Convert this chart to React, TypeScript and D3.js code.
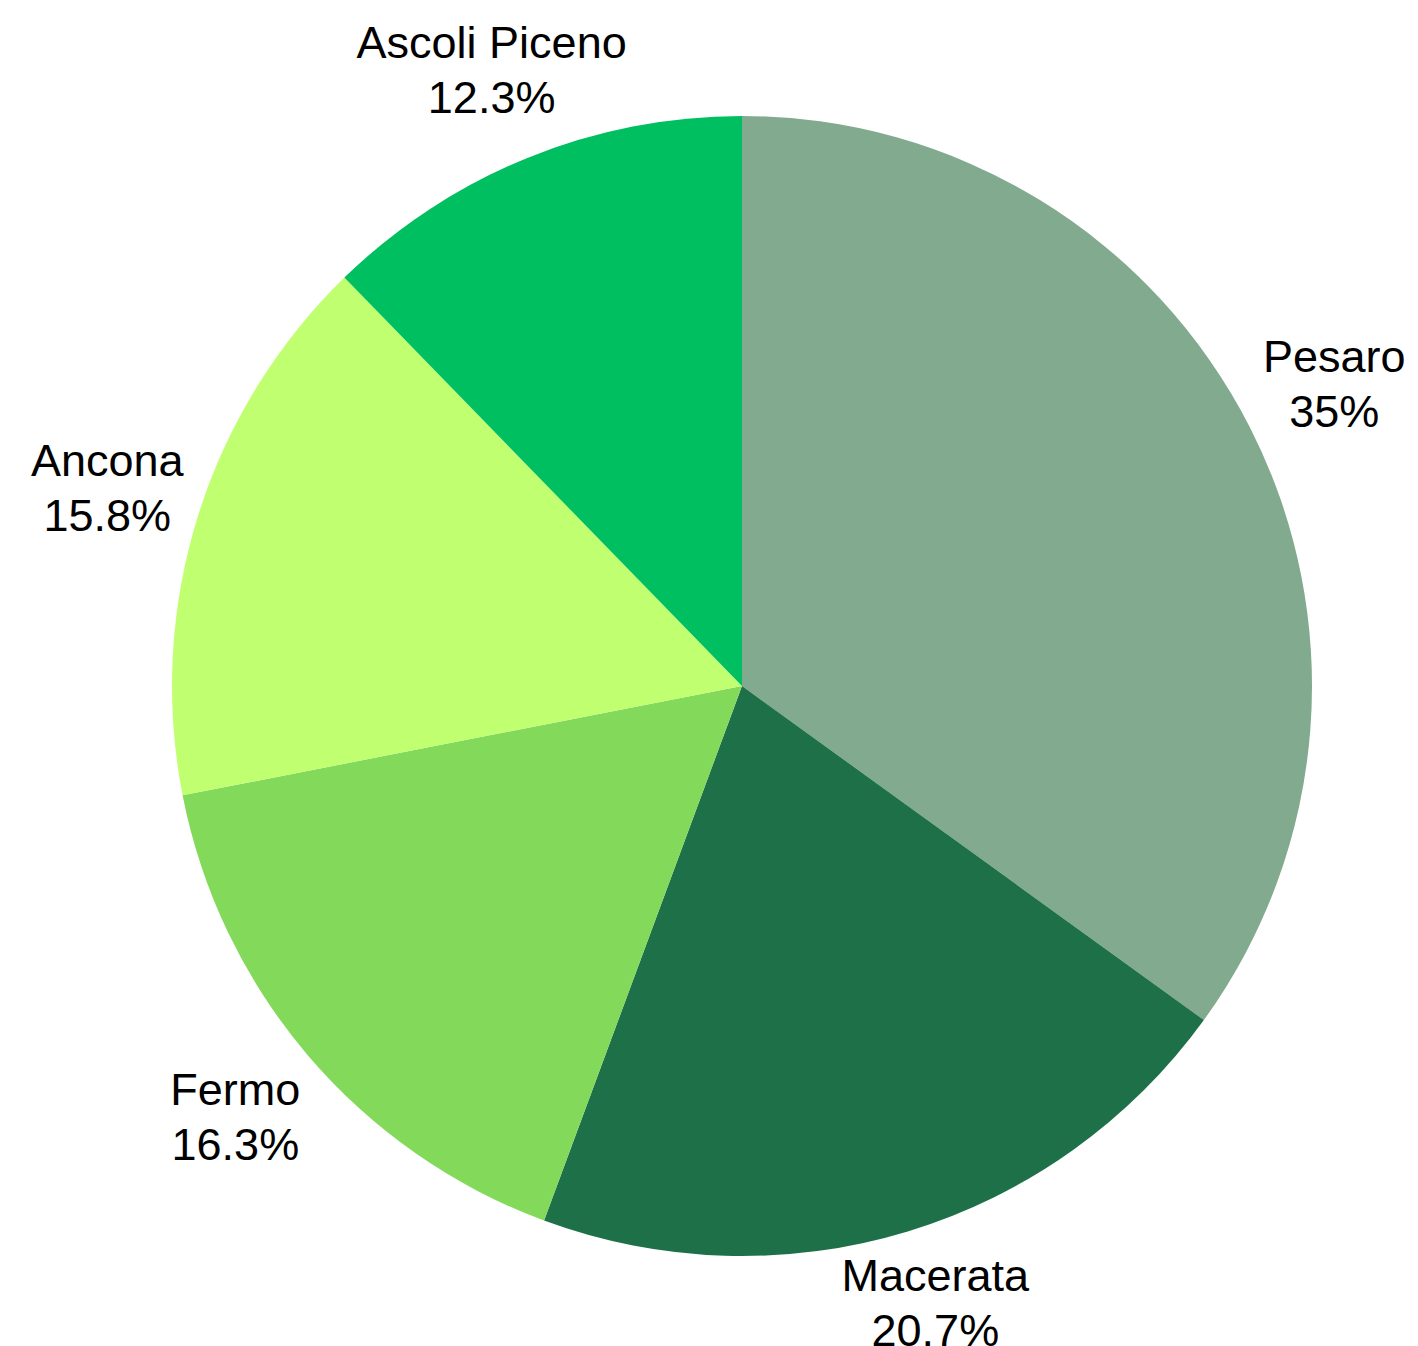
import React, { useEffect, useRef } from 'react';
import * as d3 from 'd3';

const categories = ['Pesaro', 'Macerata', 'Fermo', 'Ancona', 'Ascoli Piceno'];
const values = [35, 20.7, 16.3, 15.8, 12.3];
const percentLabels = ['35%', '20.7%', '16.3%', '15.8%', '12.3%'];
const colors = ['#82aa8e', '#1d7048', '#82d95a', '#c0ff70', '#00bf60'];

const width = 1418;
const height = 1346;

const App: React.FC = () => {
  const svgRef = useRef<SVGSVGElement>(null);

  useEffect(() => {
    document.body.style.margin = '0';
    if (!svgRef.current) return;

    const svg = d3.select(svgRef.current);
    svg.selectAll('*').remove();

    const cx = 742;
    const cy = 686;
    const radius = 570;
    const labelRadius = 665;

    const pie = d3.pie<number>().sort(null).value(d => d);
    const arcs = pie(values);

    const arc = d3.arc<d3.PieArcDatum<number>>()
      .innerRadius(0)
      .outerRadius(radius);

    const g = svg.append('g').attr('transform', `translate(${cx},${cy})`);

    g.selectAll('path.slice')
      .data(arcs)
      .enter()
      .append('path')
      .attr('class', 'slice')
      .attr('d', arc)
      .attr('fill', (d, i) => colors[i]);

    // outside labels, two lines each
    const labels = g.selectAll('text.label')
      .data(arcs)
      .enter()
      .append('text')
      .attr('class', 'label')
      .attr('text-anchor', 'middle')
      .attr('font-family', '"Liberation Sans", Arial, sans-serif')
      .attr('font-size', 45)
      .attr('fill', '#000')
      .attr('transform', d => {
        const a = (d.startAngle + d.endAngle) / 2;
        const x = Math.sin(a) * labelRadius;
        let y = -Math.cos(a) * labelRadius;
        if (Math.cos(a) < -0.9) y -= 20;
        return `translate(${x},${y})`;
      });

    labels.append('tspan')
      .attr('x', 0)
      .attr('y', -11.5)
      .text((d, i) => categories[i]);

    labels.append('tspan')
      .attr('x', 0)
      .attr('y', 43.5)
      .text((d, i) => percentLabels[i]);
  }, []);

  return (
    <div style={{ position: 'absolute', top: 0, left: 0 }}>
      <svg ref={svgRef} width={width} height={height} style={{ display: 'block', background: '#fff' }} />
    </div>
  );
};

export default App;
